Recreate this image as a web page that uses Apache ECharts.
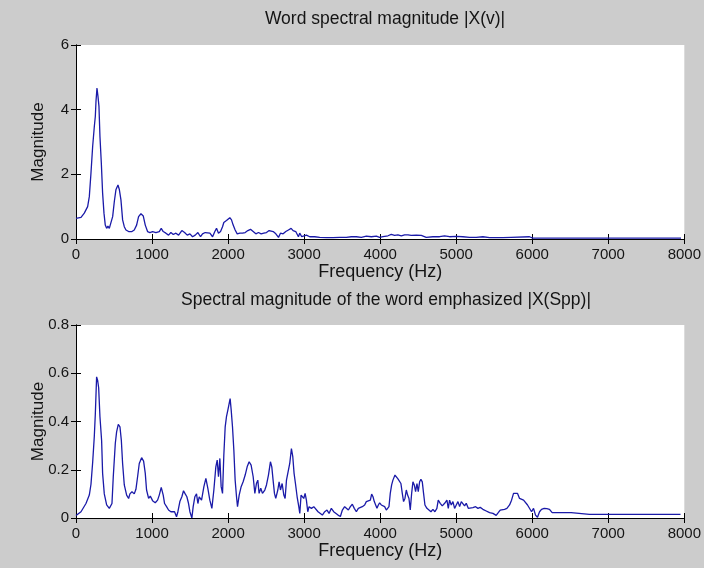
<!DOCTYPE html>
<html>
<head>
<meta charset="utf-8">
<script src="https://cdn.jsdelivr.net/npm/echarts@6/dist/echarts.min.js"></script>
<style>
  html, body { margin: 0; padding: 0; background: #cccccc; }
  #chart { width: 704px; height: 568px; }
</style>
</head>
<body>
<div id="chart"></div>
<script>
// Word spectrum |X(v)| : frequency (Hz) and magnitude
const freqTop = [0,66,109,153,175,197,219,241,254,263,276,289,302,315,333,350,368,385,403,420,438,460,482,504,525,552,569,591,613,635,657,692,736,766,797,823,854,885,911,941,972,1007,1051,1095,1121,1147,1182,1217,1248,1279,1314,1349,1392,1428,1463,1498,1533,1568,1603,1638,1664,1699,1717,1761,1796,1826,1848,1874,1901,1927,1944,1979,2023,2045,2067,2093,2120,2155,2190,2225,2260,2295,2330,2365,2400,2435,2470,2505,2540,2566,2593,2628,2663,2689,2724,2759,2794,2829,2855,2890,2925,2942,2969,2995,3030,3074,3139,3205,3293,3380,3468,3555,3621,3687,3752,3818,3884,3950,3993,4037,4103,4146,4190,4234,4278,4322,4366,4409,4475,4541,4606,4694,4782,4847,4913,5001,5088,5176,5263,5351,5439,5614,5723,5964,6008,6446,7957];
const magTop = [0.64,0.67,0.80,1.0,1.31,2.04,2.86,3.48,3.79,4.26,4.67,4.41,4.10,3.17,2.35,1.42,0.80,0.43,0.33,0.40,0.33,0.38,0.69,1.16,1.52,1.67,1.54,1.21,0.59,0.38,0.28,0.23,0.23,0.28,0.43,0.69,0.78,0.71,0.43,0.23,0.20,0.23,0.20,0.23,0.33,0.23,0.18,0.12,0.20,0.14,0.18,0.12,0.26,0.20,0.12,0.16,0.07,0.12,0.20,0.07,0.16,0.20,0.23,0.18,0.07,0.23,0.33,0.18,0.23,0.38,0.51,0.57,0.66,0.59,0.43,0.28,0.16,0.18,0.18,0.20,0.26,0.30,0.23,0.16,0.20,0.16,0.18,0.20,0.26,0.30,0.23,0.16,0.05,0.18,0.16,0.23,0.28,0.33,0.26,0.23,0.07,0.18,0.07,0.12,0.12,0.07,0.07,0.05,0.04,0.04,0.05,0.05,0.07,0.07,0.05,0.09,0.07,0.09,0.05,0.07,0.10,0.14,0.11,0.13,0.10,0.13,0.13,0.11,0.12,0.11,0.05,0.07,0.07,0.10,0.07,0.08,0.07,0.05,0.05,0.07,0.04,0.04,0.05,0.07,0.03,0.03,0.03];

// Emphasized word spectrum |X(Spp)|
const freqBottom = [0,66,131,175,197,219,241,254,271,285,298,315,337,350,372,403,438,460,473,490,517,534,556,578,596,613,635,666,692,709,736,766,788,810,832,863,889,911,928,955,977,1007,1042,1073,1095,1121,1147,1165,1191,1217,1248,1270,1296,1322,1340,1366,1392,1414,1436,1458,1480,1498,1524,1541,1563,1585,1603,1620,1651,1682,1708,1734,1760,1787,1813,1839,1857,1874,1892,1909,1927,1944,1962,1979,1997,2014,2027,2041,2058,2076,2093,2111,2124,2146,2172,2198,2225,2251,2277,2303,2330,2352,2373,2391,2408,2430,2452,2483,2505,2531,2557,2575,2592,2610,2627,2654,2671,2689,2711,2733,2750,2768,2790,2811,2833,2851,2868,2886,2908,2930,2943,2960,2978,2995,3013,3030,3048,3065,3096,3127,3153,3183,3205,3240,3271,3301,3328,3358,3389,3415,3446,3477,3503,3533,3555,3582,3608,3634,3660,3687,3713,3739,3765,3796,3818,3844,3871,3888,3906,3923,3941,3958,3976,3993,4015,4037,4059,4081,4103,4116,4133,4151,4168,4195,4212,4234,4256,4273,4291,4308,4326,4344,4361,4379,4396,4414,4431,4449,4466,4484,4501,4519,4536,4554,4571,4589,4615,4641,4668,4694,4720,4746,4764,4790,4817,4848,4878,4896,4913,4935,4957,4979,5001,5023,5045,5067,5089,5110,5132,5159,5185,5220,5255,5286,5316,5351,5395,5439,5483,5526,5553,5579,5605,5636,5667,5702,5728,5754,5780,5807,5833,5859,5886,5912,5938,5964,5991,6017,6043,6069,6096,6122,6157,6192,6227,6262,6315,6381,6512,6534,6752,6972,7409,7950];
const magBottom = [0.01,0.026,0.06,0.095,0.14,0.23,0.34,0.43,0.585,0.57,0.54,0.42,0.32,0.185,0.10,0.054,0.04,0.033,0.06,0.17,0.31,0.357,0.388,0.378,0.323,0.226,0.137,0.095,0.081,0.10,0.109,0.10,0.119,0.171,0.226,0.25,0.236,0.185,0.116,0.081,0.091,0.072,0.063,0.074,0.095,0.127,0.095,0.06,0.047,0.033,0.026,0.033,0.026,0.005,0.026,0.068,0.088,0.113,0.10,0.088,0.06,0.026,0.0,0.047,0.088,0.10,0.06,0.088,0.074,0.13,0.164,0.123,0.074,0.04,0.116,0.212,0.24,0.171,0.247,0.13,0.102,0.26,0.378,0.42,0.447,0.474,0.495,0.447,0.378,0.281,0.157,0.088,0.047,0.095,0.13,0.15,0.178,0.212,0.233,0.219,0.171,0.102,0.143,0.157,0.102,0.123,0.102,0.116,0.137,0.178,0.233,0.212,0.157,0.102,0.081,0.116,0.15,0.116,0.143,0.095,0.081,0.157,0.164,0.226,0.288,0.254,0.185,0.143,0.088,0.047,0.019,0.095,0.102,0.081,0.102,0.074,0.026,0.047,0.04,0.047,0.04,0.026,0.022,0.012,0.026,0.033,0.019,0.04,0.026,0.033,0.012,0.006,0.033,0.047,0.054,0.033,0.047,0.057,0.04,0.026,0.04,0.033,0.047,0.054,0.068,0.061,0.074,0.099,0.088,0.068,0.054,0.04,0.054,0.063,0.054,0.061,0.047,0.033,0.026,0.047,0.102,0.137,0.157,0.178,0.171,0.162,0.164,0.143,0.102,0.068,0.081,0.116,0.095,0.081,0.033,0.102,0.15,0.137,0.109,0.143,0.109,0.15,0.16,0.15,0.102,0.054,0.04,0.033,0.026,0.036,0.026,0.04,0.074,0.061,0.05,0.061,0.074,0.04,0.074,0.054,0.068,0.04,0.054,0.068,0.047,0.068,0.074,0.05,0.061,0.04,0.047,0.043,0.047,0.04,0.044,0.036,0.029,0.022,0.019,0.011,0.022,0.033,0.026,0.036,0.04,0.054,0.074,0.102,0.109,0.102,0.081,0.086,0.074,0.074,0.054,0.047,0.026,0.04,0.012,0.003,0.026,0.036,0.04,0.039,0.036,0.022,0.022,0.022,0.022,0.015,0.015,0.015,0.015,0.015];

const titleTop = 'Word spectral magnitude |X(v)|';
const titleBottom = 'Spectral magnitude of the word emphasized |X(Spp)|';
const xName = 'Frequency (Hz)';
const yName = 'Magnitude';

const FONT = '"Liberation Sans", Arial, Helvetica, sans-serif';
const INK = '#141414';
const LINE = '#1a1aa8';

function pairs(xs, ys) { return xs.map((x, i) => [x, ys[i]]); }

// One framed axes box: bottom/left axes carry labels, top/right only ticks
function xAxes(grid) {
  const base = {
    gridIndex: grid, type: 'value', min: 0, max: 8000, interval: 1000,
    axisLine: { show: true, lineStyle: { color: '#000', width: 1 } },
    axisTick: { show: true, inside: true, length: 5, lineStyle: { color: '#000' } },
    splitLine: { show: false }
  };
  return [
    Object.assign({}, base, {
      position: 'bottom',
      name: xName, nameLocation: 'middle', nameGap: 22,
      nameTextStyle: { fontFamily: FONT, fontSize: 18, color: INK },
      axisLabel: { show: true, margin: 8, fontFamily: FONT, fontSize: 15, color: INK,
                   formatter: v => String(v) }
    }),
    Object.assign({}, base, { position: 'top', axisLabel: { show: false } })
  ];
}
function yAxes(grid, max, step, fmt) {
  const base = {
    gridIndex: grid, type: 'value', min: 0, max: max, interval: step,
    axisLine: { show: true, lineStyle: { color: '#000', width: 1 } },
    axisTick: { show: true, inside: true, length: 5, lineStyle: { color: '#000' } },
    splitLine: { show: false }
  };
  return [
    Object.assign({}, base, {
      position: 'left',
      name: yName, nameLocation: 'middle', nameGap: 29, nameRotate: 90, nameMoveOverlap: false,
      nameTextStyle: { fontFamily: FONT, fontSize: 17, color: INK },
      axisLabel: { show: true, margin: 7, fontFamily: FONT, fontSize: 15, color: INK, formatter: fmt }
    }),
    Object.assign({}, base, { position: 'right', axisLabel: { show: false } })
  ];
}

const chart = echarts.init(document.getElementById('chart'), null, { renderer: 'canvas' });
chart.setOption({
  animation: false,
  backgroundColor: '#cccccc',
  title: [
    { text: titleTop, left: 380, top: 5, textAlign: 'center',
      textStyle: { fontFamily: FONT, fontSize: 17.5, fontWeight: 'normal', color: INK } },
    { text: titleBottom, left: 381, top: 286, textAlign: 'center',
      textStyle: { fontFamily: FONT, fontSize: 17.5, fontWeight: 'normal', color: INK } }
  ],
  grid: [
    { left: 76, top: 45, width: 609, height: 194, show: true, backgroundColor: '#ffffff', borderWidth: 0 },
    { left: 76, top: 325, width: 610, height: 193, show: true, backgroundColor: '#ffffff', borderWidth: 0 }
  ],
  xAxis: [].concat(xAxes(0), xAxes(1)),
  yAxis: [].concat(
    yAxes(0, 6, 2, v => String(v)),
    yAxes(1, 0.8, 0.2, v => (v === 0 ? '0' : v.toFixed(1)))
  ),
  series: [
    { type: 'line', xAxisIndex: 0, yAxisIndex: 0, data: pairs(freqTop, magTop),
      showSymbol: false, lineStyle: { color: LINE, width: 1.3 }, itemStyle: { color: LINE } },
    { type: 'line', xAxisIndex: 2, yAxisIndex: 2, data: pairs(freqBottom, magBottom),
      showSymbol: false, lineStyle: { color: LINE, width: 1.3 }, itemStyle: { color: LINE } }
  ]
});
</script>
</body>
</html>
